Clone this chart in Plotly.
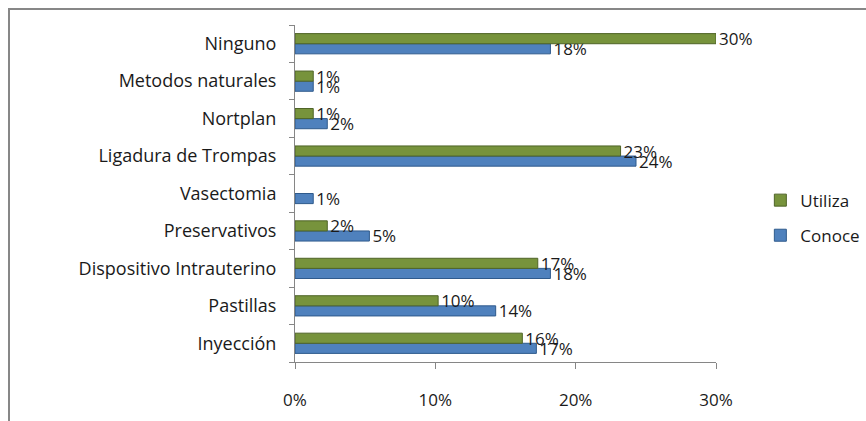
import plotly.graph_objects as go

categories = ["Inyección", "Pastillas", "Dispositivo Intrauterino", "Preservativos",
              "Vasectomia", "Ligadura de Trompas", "Nortplan", "Metodos naturales", "Ninguno"]
conoce = [0.172, 0.143, 0.182, 0.053, 0.013, 0.243, 0.023, 0.013, 0.182]
utiliza = [0.162, 0.102, 0.173, 0.023, None, 0.232, 0.013, 0.013, 0.300]
x_ticks = [0, 0.1, 0.2, 0.3]
x_tick_labels = ["0%", "10%", "20%", "30%"]

FONT = "Open Sans"
FS = 17

fig = go.Figure()
fig.add_trace(go.Bar(
    y=categories, x=conoce, orientation="h", name="Conoce",
    marker=dict(color="#4F81BD", line=dict(color="#2F5A8C", width=1)),
    texttemplate="%{x:.0%}", textposition="outside", cliponaxis=False,
    constraintext="none",
    textfont=dict(size=FS, color="#1a1a1a", family=FONT),
    legendgroup="c", legendrank=2,
))
fig.add_trace(go.Bar(
    y=categories, x=utiliza, orientation="h", name="Utiliza",
    marker=dict(color="#77933C", line=dict(color="#4F6427", width=1)),
    texttemplate="%{x:.0%}", textposition="outside", cliponaxis=False,
    constraintext="none",
    textfont=dict(size=FS, color="#1a1a1a", family=FONT),
    legendgroup="u", legendrank=1,
))

fig.update_layout(
    width=866, height=421,
    margin=dict(l=295, r=150, t=25, b=59, autoexpand=False),
    paper_bgcolor="white", plot_bgcolor="white",
    barmode="group", bargap=0.46, bargroupgap=0,
    font=dict(family=FONT, size=FS, color="#1a1a1a"),
    showlegend=True,
    legend=dict(xref="container", yref="container", x=0.878, y=0.482,
                xanchor="left", yanchor="middle",
                traceorder="grouped", tracegroupgap=10,
                font=dict(size=FS, family=FONT), itemwidth=30,
                bgcolor="rgba(0,0,0,0)"),
    xaxis=dict(range=[0, 0.3], tickvals=x_ticks, ticktext=x_tick_labels,
               showgrid=False, zeroline=False, showline=True, linecolor="#868686",
               linewidth=1, ticks="outside", ticklen=6, tickcolor="#868686",
               ticklabelstandoff=17, tickfont=dict(size=FS)),
    yaxis=dict(showgrid=False, showline=True, linecolor="#868686", linewidth=1,
               ticks="outside", ticklen=5, tickcolor="#868686", tickson="boundaries",
               ticklabelstandoff=14, tickfont=dict(size=18)),
    shapes=[dict(type="rect", xref="paper", yref="paper",
                 x0=(9 - 295) / 421, x1=(880 - 295) / 421,
                 y0=(362 - 430) / 337, y1=(362 - 9) / 337,
                 line=dict(color="#878787", width=2), fillcolor="rgba(0,0,0,0)",
                 layer="below")],
)

fig.write_html("out.html", config={"displayModeBar": False},
               post_script="document.body.style.margin='0';")
